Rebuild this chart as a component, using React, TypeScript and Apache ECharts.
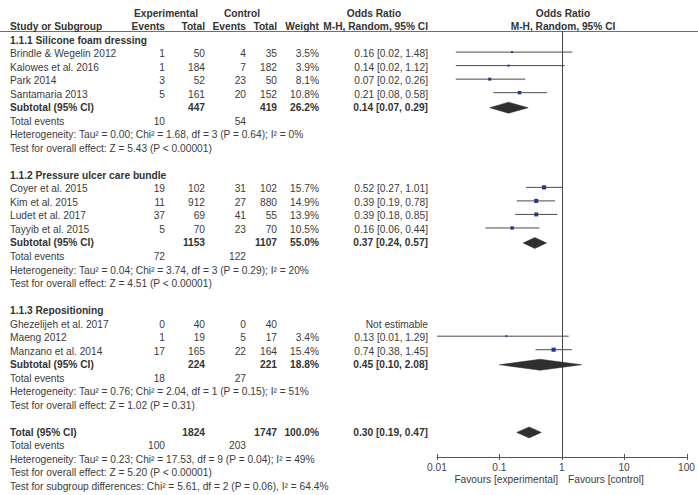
import React, { useEffect, useRef } from "react";
import * as echarts from "echarts";

const FONT = '"Liberation Sans", Arial, Helvetica, sans-serif';
const FONT_SIZE = 10.2;
const TEXT_COLOR = "#3c3c3c";
const BOLD_COLOR = "#333333";

// Subgroups
const groupTitles = [
  "1.1.1 Silicone foam dressing",
  "1.1.2 Pressure ulcer care bundle",
  "1.1.3 Repositioning",
];

// Individual studies
const studyNames = [
  "Brindle & Wegelin 2012",
  "Kalowes et al. 2016",
  "Park 2014",
  "Santamaria 2013",
  "Coyer et al. 2015",
  "Kim et al. 2015",
  "Ludet et al. 2017",
  "Tayyib et al. 2015",
  "Ghezelijeh et al. 2017",
  "Maeng 2012",
  "Manzano et al. 2014",
];
const studyGroup = [0, 0, 0, 0, 1, 1, 1, 1, 2, 2, 2];
const expEvents = [1, 1, 3, 5, 19, 11, 37, 5, 0, 1, 17];
const expTotal = [50, 184, 52, 161, 102, 912, 69, 70, 40, 19, 165];
const ctlEvents = [4, 7, 23, 20, 31, 27, 41, 23, 0, 5, 22];
const ctlTotal = [35, 182, 50, 152, 102, 880, 55, 70, 40, 17, 164];
const studyWeight: (number | null)[] = [3.5, 3.9, 8.1, 10.8, 15.7, 14.9, 13.9, 10.5, null, 3.4, 15.4];
const studyOR: (number | null)[] = [0.16, 0.14, 0.07, 0.21, 0.52, 0.39, 0.39, 0.16, null, 0.13, 0.74];
const studyLo: (number | null)[] = [0.02, 0.02, 0.02, 0.08, 0.27, 0.19, 0.18, 0.06, null, 0.01, 0.38];
const studyHi: (number | null)[] = [1.48, 1.12, 0.26, 0.58, 1.01, 0.78, 0.85, 0.44, null, 1.29, 1.45];

// Subgroup summaries
const subExpTotal = [447, 1153, 224];
const subCtlTotal = [419, 1107, 221];
const subWeight = [26.2, 55.0, 18.8];
const subOR = [0.14, 0.37, 0.45];
const subLo = [0.07, 0.24, 0.1];
const subHi = [0.29, 0.57, 2.08];
const subExpEvents = [10, 72, 18];
const subCtlEvents = [54, 122, 27];
const subHeterogeneity = [
  "Heterogeneity: Tau² = 0.00; Chi² = 1.68, df = 3 (P = 0.64); I² = 0%",
  "Heterogeneity: Tau² = 0.04; Chi² = 3.74, df = 3 (P = 0.29); I² = 20%",
  "Heterogeneity: Tau² = 0.76; Chi² = 2.04, df = 1 (P = 0.15); I² = 51%",
];
const subEffect = [
  "Test for overall effect: Z = 5.43 (P < 0.00001)",
  "Test for overall effect: Z = 4.51 (P < 0.00001)",
  "Test for overall effect: Z = 1.02 (P = 0.31)",
];

// Overall summary
const totalExpTotal = 1824;
const totalCtlTotal = 1747;
const totalWeight = 100.0;
const totalOR = 0.3;
const totalLo = 0.19;
const totalHi = 0.47;
const totalExpEvents = 100;
const totalCtlEvents = 203;
const totalNotes = [
  "Heterogeneity: Tau² = 0.23; Chi² = 17.53, df = 9 (P = 0.04); I² = 49%",
  "Test for overall effect: Z = 5.20 (P < 0.00001)",
  "Test for subgroup differences: Chi² = 5.61, df = 2 (P = 0.06), I² = 64.4%",
];

// Axis ticks
const axisTicks = [0.01, 0.1, 1, 10, 100];

// ---- layout ----
const COL = { name: 10, expEv: 165, expTot: 205, ctlEv: 246, ctlTot: 277, weight: 319, or: 428 };
const Y_MIN = -0.67;
const Y_MAX = 30.82;

type Cell = { text: string; x: number; align: "left" | "right" | "center"; bold?: boolean };
type Row = { row: number; cells: Cell[] };
type Mark = { kind: "study" | "diamond"; row: number; or: number; lo: number; hi: number; weight: number };

const fmtCI = (or: number, lo: number, hi: number) =>
  `${or.toFixed(2)} [${lo.toFixed(2)}, ${hi.toFixed(2)}]`;

function buildTable() {
  const rows: Row[] = [];
  const marks: Mark[] = [];
  rows.push({
    row: -2,
    cells: [
      { text: "Experimental", x: 166, align: "center", bold: true },
      { text: "Control", x: 242, align: "center", bold: true },
      { text: "Odds Ratio", x: 374, align: "center", bold: true },
      { text: "Odds Ratio", x: 563, align: "center", bold: true },
    ],
  });
  rows.push({
    row: -1,
    cells: [
      { text: "Study or Subgroup", x: COL.name, align: "left", bold: true },
      { text: "Events", x: COL.expEv, align: "right", bold: true },
      { text: "Total", x: COL.expTot, align: "right", bold: true },
      { text: "Events", x: COL.ctlEv, align: "right", bold: true },
      { text: "Total", x: COL.ctlTot, align: "right", bold: true },
      { text: "Weight", x: COL.weight, align: "right", bold: true },
      { text: "M-H, Random, 95% CI", x: COL.or, align: "right", bold: true },
      { text: "M-H, Random, 95% CI", x: 563, align: "center", bold: true },
    ],
  });

  let r = 0;
  groupTitles.forEach((title, g) => {
    rows.push({ row: r, cells: [{ text: title, x: COL.name, align: "left", bold: true }] });
    r++;
    studyNames.forEach((name, i) => {
      if (studyGroup[i] !== g) return;
      const w = studyWeight[i];
      const or = studyOR[i];
      const lo = studyLo[i];
      const hi = studyHi[i];
      const estimable = or != null && lo != null && hi != null;
      rows.push({
        row: r,
        cells: [
          { text: name, x: COL.name, align: "left" },
          { text: String(expEvents[i]), x: COL.expEv, align: "right" },
          { text: String(expTotal[i]), x: COL.expTot, align: "right" },
          { text: String(ctlEvents[i]), x: COL.ctlEv, align: "right" },
          { text: String(ctlTotal[i]), x: COL.ctlTot, align: "right" },
          { text: w != null ? `${w.toFixed(1)}%` : "", x: COL.weight, align: "right" },
          {
            text: estimable ? fmtCI(or as number, lo as number, hi as number) : "Not estimable",
            x: COL.or,
            align: "right",
          },
        ],
      });
      if (estimable) {
        marks.push({ kind: "study", row: r, or: or as number, lo: lo as number, hi: hi as number, weight: w as number });
      }
      r++;
    });
    rows.push({
      row: r,
      cells: [
        { text: "Subtotal (95% CI)", x: COL.name, align: "left", bold: true },
        { text: String(subExpTotal[g]), x: COL.expTot, align: "right", bold: true },
        { text: String(subCtlTotal[g]), x: COL.ctlTot, align: "right", bold: true },
        { text: `${subWeight[g].toFixed(1)}%`, x: COL.weight, align: "right", bold: true },
        { text: fmtCI(subOR[g], subLo[g], subHi[g]), x: COL.or, align: "right", bold: true },
      ],
    });
    marks.push({ kind: "diamond", row: r, or: subOR[g], lo: subLo[g], hi: subHi[g], weight: subWeight[g] });
    r++;
    rows.push({
      row: r,
      cells: [
        { text: "Total events", x: COL.name, align: "left" },
        { text: String(subExpEvents[g]), x: COL.expEv, align: "right" },
        { text: String(subCtlEvents[g]), x: COL.ctlEv, align: "right" },
      ],
    });
    r++;
    rows.push({ row: r, cells: [{ text: subHeterogeneity[g], x: COL.name, align: "left" }] });
    r++;
    rows.push({ row: r, cells: [{ text: subEffect[g], x: COL.name, align: "left" }] });
    r++;
    r++; // spacer
  });

  rows.push({
    row: r,
    cells: [
      { text: "Total (95% CI)", x: COL.name, align: "left", bold: true },
      { text: String(totalExpTotal), x: COL.expTot, align: "right", bold: true },
      { text: String(totalCtlTotal), x: COL.ctlTot, align: "right", bold: true },
      { text: `${totalWeight.toFixed(1)}%`, x: COL.weight, align: "right", bold: true },
      { text: fmtCI(totalOR, totalLo, totalHi), x: COL.or, align: "right", bold: true },
    ],
  });
  marks.push({ kind: "diamond", row: r, or: totalOR, lo: totalLo, hi: totalHi, weight: totalWeight });
  r++;
  rows.push({
    row: r,
    cells: [
      { text: "Total events", x: COL.name, align: "left" },
      { text: String(totalExpEvents), x: COL.expEv, align: "right" },
      { text: String(totalCtlEvents), x: COL.ctlEv, align: "right" },
    ],
  });
  r++;
  totalNotes.forEach((note) => {
    rows.push({ row: r, cells: [{ text: note, x: COL.name, align: "left" }] });
    r++;
  });
  return { rows, marks };
}

export default function App() {
  const ref = useRef<HTMLDivElement>(null);

  useEffect(() => {
    if (!ref.current) return;
    const chart = echarts.init(ref.current, undefined, { renderer: "svg" });
    const { rows, marks } = buildTable();

    const option: any = {
      animation: false,
      backgroundColor: "#ffffff",
      grid: { left: 437, right: 9, top: 31, bottom: 38, containLabel: false },
      xAxis: {
        type: "log",
        logBase: 10,
        min: 0.01,
        max: 100,
        axisLine: { show: true, onZero: false, lineStyle: { color: "#555555", width: 1 } },
        axisTick: { show: false },
        splitLine: { show: false },
        axisLabel: {
          color: "#444444",
          fontSize: FONT_SIZE,
          fontFamily: FONT,
          margin: 5,
          formatter: (v: number) => (v >= 1 ? String(Math.round(v)) : String(Number(v.toPrecision(1)))),
        },
      },
      yAxis: { type: "value", inverse: true, min: Y_MIN, max: Y_MAX, show: false },
      series: [
        {
          // table text, one group of cells per row
          type: "custom",
          clip: false,
          silent: true,
          data: rows.map((r) => [1, r.row]),
          renderItem: (params: any, api: any) => {
            const row = rows[params.dataIndex];
            const y = api.coord([1, row.row])[1];
            return {
              type: "group",
              children: row.cells.map((c) => ({
                type: "text",
                style: {
                  x: c.x,
                  y,
                  text: c.text,
                  align: c.align,
                  verticalAlign: "middle",
                  fontFamily: FONT,
                  fontSize: FONT_SIZE,
                  fontWeight: c.bold ? "bold" : "normal",
                  fill: c.bold ? BOLD_COLOR : TEXT_COLOR,
                },
              })),
            };
          },
        },
        {
          // line of no effect
          type: "custom",
          clip: false,
          silent: true,
          data: [[1, Y_MIN]],
          renderItem: (params: any, api: any) => {
            const top = api.coord([1, Y_MIN]);
            const bottom = api.coord([1, Y_MAX]);
            return {
              type: "line",
              shape: { x1: Math.round(top[0]) + 0.5, y1: top[1], x2: Math.round(top[0]) + 0.5, y2: bottom[1] },
              style: { stroke: "#444444", lineWidth: 1 },
            };
          },
        },
        {
          // axis ticks crossing the axis line
          type: "custom",
          clip: false,
          silent: true,
          data: axisTicks.map((v) => [v, Y_MAX]),
          renderItem: (params: any, api: any) => {
            const p = api.coord([api.value(0), Y_MAX]);
            const x = Math.round(p[0]) + 0.5;
            return {
              type: "line",
              shape: { x1: x, y1: p[1] - 3, x2: x, y2: p[1] + 3 },
              style: { stroke: "#555555", lineWidth: 1 },
            };
          },
        },
        {
          // study squares with CI whiskers, and pooled diamonds
          type: "custom",
          clip: false,
          silent: true,
          data: marks.map((m) => [m.or, m.row, m.lo, m.hi, m.weight, m.kind === "diamond" ? 1 : 0]),
          renderItem: (params: any, api: any) => {
            const or = api.value(0);
            const row = api.value(1);
            const lo = api.value(2);
            const hi = api.value(3);
            const w = api.value(4);
            const isDiamond = api.value(5) === 1;
            const c = api.coord([or, row]);
            const l = api.coord([lo, row]);
            const h = api.coord([hi, row]);
            if (isDiamond) {
              const half = 5.5;
              return {
                type: "polygon",
                shape: {
                  points: [
                    [l[0], c[1]],
                    [c[0], c[1] - half],
                    [h[0], c[1]],
                    [c[0], c[1] + half],
                  ],
                },
                style: { fill: "#2f2f2f", stroke: "#2f2f2f", lineWidth: 0.5 },
              };
            }
            const y = c[1] - 1.5;
            const side = 1.05 * Math.sqrt(w);
            return {
              type: "group",
              children: [
                {
                  type: "line",
                  shape: { x1: l[0], y1: y, x2: h[0], y2: y },
                  style: { stroke: "#4a4a4a", lineWidth: 1 },
                },
                {
                  type: "rect",
                  shape: { x: c[0] - side / 2, y: y - side / 2, width: side, height: side },
                  style: { fill: "#233a8c" },
                },
              ],
            };
          },
        },
      ],
      graphic: [
        {
          type: "line",
          shape: { x1: 0, y1: 31.5, x2: 698, y2: 31.5 },
          style: { stroke: "#707070", lineWidth: 1 },
          silent: true,
        },
        {
          type: "text",
          x: 558,
          y: 479,
          style: {
            text: "Favours [experimental]",
            align: "right",
            verticalAlign: "middle",
            fontFamily: FONT,
            fontSize: FONT_SIZE,
            fill: TEXT_COLOR,
          },
          silent: true,
        },
        {
          type: "text",
          x: 568,
          y: 479,
          style: {
            text: "Favours [control]",
            align: "left",
            verticalAlign: "middle",
            fontFamily: FONT,
            fontSize: FONT_SIZE,
            fill: TEXT_COLOR,
          },
          silent: true,
        },
      ],
    };

    chart.setOption(option);
    return () => chart.dispose();
  }, []);

  return (
    <div
      ref={ref}
      style={{ position: "absolute", left: 0, top: 0, width: 698, height: 495, background: "#ffffff" }}
    />
  );
}
